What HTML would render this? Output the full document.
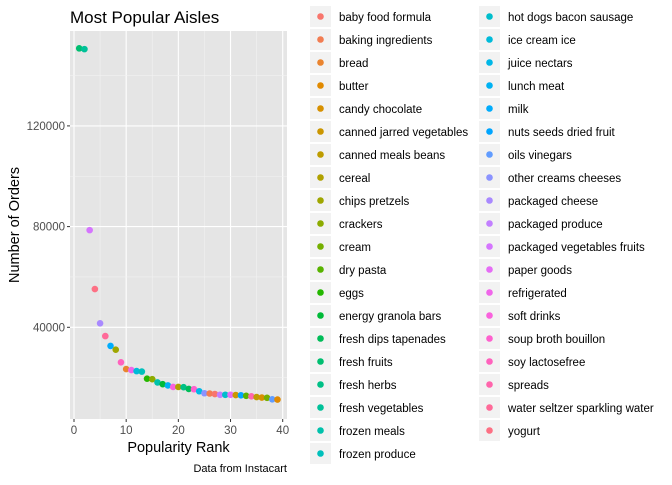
<!DOCTYPE html>
<html><head><meta charset="utf-8"><style>
html,body{margin:0;padding:0;background:#fff;}
svg text{font-family:"Liberation Sans",Arial,sans-serif;}
</style></head><body>
<svg id="chart" width="672" height="480" viewBox="0 0 672 480" xmlns="http://www.w3.org/2000/svg">
<text x="70" y="23" font-size="17" fill="#000">Most Popular Aisles</text>
<rect x="70" y="31" width="217" height="388" fill="#e5e5e5"/>
<g id="grid"></g><g id="axes"></g><g id="points"></g><g id="legend"></g>
<text x="178.5" y="452" font-size="14.5" text-anchor="middle" fill="#000">Popularity Rank</text>
<text transform="translate(19,225) rotate(-90)" font-size="14.5" text-anchor="middle" fill="#000">Number of Orders</text>
<text x="287" y="472" font-size="11" text-anchor="end" fill="#000">Data from Instacart</text>
</svg>
<script>
const aisles=["baby food formula","baking ingredients","bread","butter","candy chocolate","canned jarred vegetables","canned meals beans","cereal","chips pretzels","crackers","cream","dry pasta","eggs","energy granola bars","fresh dips tapenades","fresh fruits","fresh herbs","fresh vegetables","frozen meals","frozen produce","hot dogs bacon sausage","ice cream ice","juice nectars","lunch meat","milk","nuts seeds dried fruit","oils vinegars","other creams cheeses","packaged cheese","packaged produce","packaged vegetables fruits","paper goods","refrigerated","soft drinks","soup broth bouillon","soy lactosefree","spreads","water seltzer sparkling water","yogurt"];
const rankedAisles=["fresh fruits","fresh vegetables","packaged vegetables fruits","yogurt","packaged cheese","water seltzer sparkling water","milk","chips pretzels","soy lactosefree","bread","refrigerated","ice cream ice","frozen produce","eggs","crackers","frozen meals","energy granola bars","lunch meat","soft drinks","cereal","fresh herbs","fresh dips tapenades","soup broth bouillon","juice nectars","other creams cheeses","baking ingredients","baby food formula","packaged produce","hot dogs bacon sausage","paper goods","canned jarred vegetables","nuts seeds dried fruit","dry pasta","spreads","canned meals beans","candy chocolate","cream","oils vinegars","butter"];
const orders=[150800,150500,78600,55200,41600,36500,32600,31100,26100,23400,23000,22600,22400,19600,19400,18100,17400,16900,16300,16300,16200,15500,15400,14600,13800,13700,13500,13200,13200,13200,13100,13000,12800,12600,12300,12100,12000,11400,11300];
const xTicks=[0,10,20,30,40];
const yTicks=[40000,80000,120000];
const NS="http://www.w3.org/2000/svg";
const X0=70,X1=287,Y0=31,Y1=419;
const xs=v=>74+v*(282.7-74)/40;
const ys=v=>428-v*100.7/40000;
function hcl(h){const L=65,C=100,Xn=95.047,Yn=100,Zn=108.883;
const Y=Math.pow((L+16)/116,3)*Yn;const d=Xn+15*Yn+3*Zn,un=4*Xn/d,vn=9*Yn/d;
const hr=h*Math.PI/180,u=C*Math.cos(hr),v=C*Math.sin(hr);
const up=u/(13*L)+un,vp=v/(13*L)+vn;const X=Y*9*up/(4*vp),Z=Y*(12-3*up-20*vp)/(4*vp);
const x=X/100,y=Y/100,z=Z/100;
let r=3.2404542*x-1.5371385*y-0.4985314*z,g=-0.969266*x+1.8760108*y+0.041556*z,b=0.0556434*x-0.2040259*y+1.0572252*z;
const gm=c=>{c=c<=0.0031308?12.92*c:1.055*Math.pow(c,1/2.4)-0.055;return Math.round(Math.max(0,Math.min(1,c))*255);};
return `rgb(${gm(r)},${gm(g)},${gm(b)})`;}
const colorOf=name=>hcl(15+aisles.indexOf(name)*360/aisles.length);
function el(tag,attrs,parent,txt){const e=document.createElementNS(NS,tag);for(const k in attrs)e.setAttribute(k,attrs[k]);if(txt!==undefined)e.textContent=txt;parent.appendChild(e);return e;}
const grid=document.getElementById('grid'),axes=document.getElementById('axes');
for(let i=0;i<xTicks.length;i++){const v=xTicks[i];
 if(i<xTicks.length-1){const l=el('line',{x1:xs(v+5),x2:xs(v+5),y1:Y0,y2:Y1,stroke:'#f2f2f2','stroke-width':0.6},grid);}
 const g=el('line',{x1:xs(v),x2:xs(v),y1:Y0,y2:Y1,stroke:'#fff','stroke-width':1.1},grid);
 el('line',{x1:xs(v),x2:xs(v),y1:Y1,y2:Y1+3,stroke:'#333','stroke-width':1},axes);
 const t=el('text',{x:xs(v),y:Y1+15,'font-size':11.5,'text-anchor':'middle',fill:'#4d4d4d'},axes,String(v));}
const minorY=[20000,60000,100000,140000];
for(const v of minorY){const l=el('line',{x1:X0,x2:X1,y1:ys(v),y2:ys(v),stroke:'#f2f2f2','stroke-width':0.6},grid);}
for(const v of yTicks){const g=el('line',{x1:X0,x2:X1,y1:ys(v),y2:ys(v),stroke:'#fff','stroke-width':1.1},grid);
 el('line',{x1:X0-3,x2:X0,y1:ys(v),y2:ys(v),stroke:'#333','stroke-width':1},axes);
 const t=el('text',{x:X0-5,y:ys(v)+4,'font-size':11.5,'text-anchor':'end',fill:'#4d4d4d'},axes,String(v));}
const pts=document.getElementById('points');
for(let i=0;i<orders.length;i++){const c=el('circle',{cx:xs(i+1),cy:ys(orders[i]),r:3.3,fill:colorOf(rankedAisles[i])},pts);
 
 }
const lg=document.getElementById('legend');
for(let i=0;i<aisles.length;i++){const col=i<20?0:1,row=i%20;const bx=col?479:310,by=6+row*23;
 const g=el('g',{},lg);
 
 
 el('rect',{x:bx,y:by,width:21,height:21,fill:'#f2f2f2'},g);
 el('circle',{cx:bx+10.5,cy:by+10.5,r:3.3,fill:colorOf(aisles[i])},g);
 el('text',{x:bx+29,y:by+15,'font-size':11.5,fill:'#000'},g,aisles[i]);}
</script>
</body></html>
